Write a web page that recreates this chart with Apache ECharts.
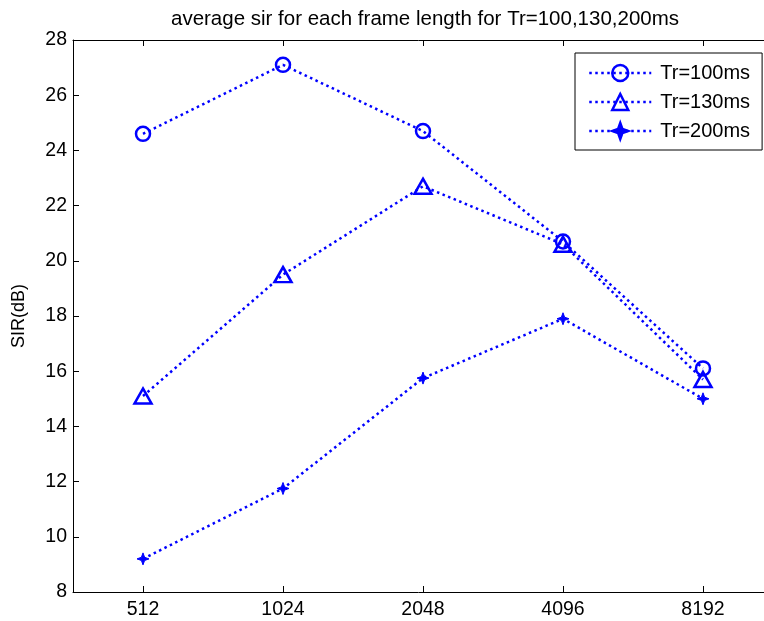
<!DOCTYPE html>
<html>
<head>
<meta charset="utf-8">
<script src="https://cdn.jsdelivr.net/npm/echarts@6/dist/echarts.min.js"></script>
<style>html,body{margin:0;padding:0;background:#fff}#c{width:764px;height:621px}</style>
</head>
<body>
<div id="c"></div>
<script>
const categories = ['512', '1024', '2048', '4096', '8192'];
const tr100 = [24.6, 27.1, 24.7, 20.7, 16.1];
const tr130 = [15.1, 19.5, 22.7, 20.6, 15.7];
const tr200 = [9.2, 11.75, 15.75, 17.9, 15.0];
const seriesNames = ['Tr=100ms', 'Tr=130ms', 'Tr=200ms'];
const yTicks = { min: 8, max: 28, interval: 2 };

const BLUE = '#0000ff';
const FONT = 'Liberation Sans, Arial, sans-serif';
const starPath = 'path://M0,-6 L1.6,-1.6 L6,0 L1.6,1.6 L0,6 L-1.6,1.6 L-6,0 L-1.6,-1.6 Z';

// x positions are category indices 1..N (MATLAB style), axis spans 0.5 .. N+0.5 (right part beyond the canvas)
const xPos = categories.map((c, i) => i + 1);
const GRID_LEFT = 73, BAND = 140, CANVAS_W = 764;
const xMin = 0.5;
const xMax = 0.5 + (CANVAS_W - GRID_LEFT) / BAND;

function toPairs(vals) { return vals.map((v, i) => [xPos[i], v]); }

function mk(name, data, symbol, size, filled) {
  return {
    name: name,
    type: 'line',
    data: toPairs(data),
    symbol: symbol,
    symbolSize: size,
    showAllSymbol: true,
    clip: false,
    lineStyle: { color: BLUE, width: 2.5, type: [2.5, 3.5] },
    itemStyle: { color: filled ? BLUE : 'rgba(255,255,255,0)', borderColor: BLUE, borderWidth: filled ? 1 : 2.5 },
    emphasis: { disabled: true },
    animation: false
  };
}

const xCommon = {
  type: 'value',
  min: xMin, max: xMax,
  axisLine: { show: true, onZero: false, lineStyle: { color: '#000', width: 1 } },
  axisTick: { show: true, inside: true, length: 6, customValues: xPos, lineStyle: { color: '#000' } },
  splitLine: { show: false }
};

const chart = echarts.init(document.getElementById('c'), null, { renderer: 'canvas' });
chart.setOption({
  backgroundColor: '#fff',
  animation: false,
  title: {
    text: 'average sir for each frame length for Tr=100,130,200ms',
    left: 420, top: 4, textAlign: 'center',
    textStyle: { fontFamily: FONT, fontSize: 20.5, fontWeight: 'normal', color: '#000' }
  },
  legend: {
    data: seriesNames,
    orient: 'vertical',
    left: 575, top: 53,
    itemWidth: 62, itemHeight: 20,
    itemGap: 9,
    padding: [10, 12, 9, 13],
    borderColor: '#000', borderWidth: 1,
    backgroundColor: '#fff',
    itemStyle: { borderWidth: 2.5 },
    lineStyle: { width: 2.5 },
    textStyle: { fontFamily: FONT, fontSize: 20, lineHeight: 20, color: '#000', padding: [0, 0, 0, 4] }
  },
  grid: { left: GRID_LEFT, top: 40, right: 0, bottom: 29, containLabel: false },
  xAxis: [Object.assign({}, xCommon, {
    position: 'bottom',
    axisLabel: {
      fontFamily: FONT, fontSize: 19.5, color: '#000', margin: 8,
      customValues: xPos,
      formatter: v => categories[Math.round(v) - 1]
    }
  }), Object.assign({}, xCommon, {
    position: 'top',
    axisLabel: { show: false }
  })],
  yAxis: [{
    type: 'value',
    min: yTicks.min, max: yTicks.max, interval: yTicks.interval,
    name: 'SIR(dB)',
    nameLocation: 'middle',
    nameGap: 45,
    nameTextStyle: { fontFamily: FONT, fontSize: 18, color: '#000' },
    axisLine: { show: true, onZero: false, lineStyle: { color: '#000', width: 1 } },
    axisTick: { show: true, inside: true, length: 6, lineStyle: { color: '#000' } },
    axisLabel: { fontFamily: FONT, fontSize: 19.5, color: '#000', margin: 6 },
    splitLine: { show: false }
  }],
  series: [
    mk(seriesNames[0], tr100, 'circle', 14, false),
    mk(seriesNames[1], tr130, 'triangle', [17, 15], false),
    mk(seriesNames[2], tr200, starPath, 12, true)
  ]
});
</script>
</body>
</html>
